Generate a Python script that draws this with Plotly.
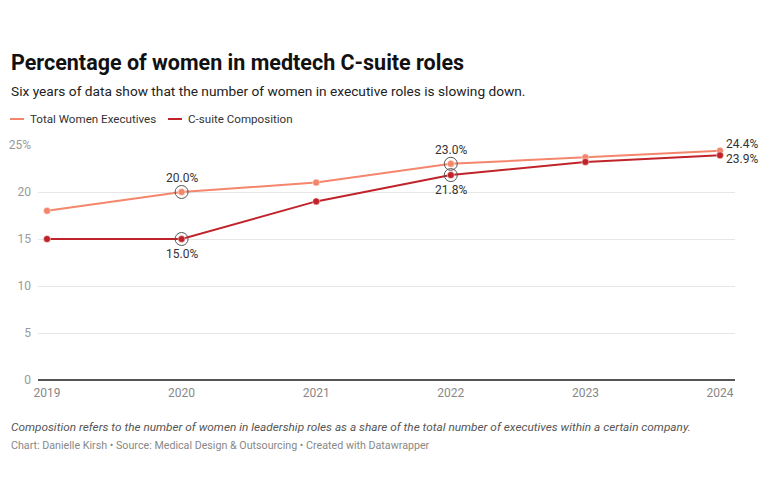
import plotly.graph_objects as go

years = [2019, 2020, 2021, 2022, 2023, 2024]
total_women = [18.0, 20.0, 21.0, 23.0, 23.7, 24.4]
csuite = [15.0, 15.0, 19.0, 21.8, 23.2, 23.9]
y_ticks = [0, 5, 10, 15, 20, 25]
y_tick_labels = ["0", "5", "10", "15", "20", "25%"]
highlight_years = [2020, 2022]
series_names = ["Total Women Executives", "C-suite Composition"]

C_TOTAL = "#f4866b"
C_CSUITE = "#c0242a"

# page body has an 8px default margin; size the figure to fit the window
OFF = 8
W, H = 770 - OFF, 500 - OFF
ML, MR, MT, MB = 38 - OFF, 35, 145 - OFF, 120
PW = W - ML - MR
PH = H - MT - MB

def px_x(px):
    return (px - OFF - ML) / PW

def px_y(py):
    return (H - MB - (py - OFF)) / PH

fig = go.Figure()

for series, col in ((total_women, C_TOTAL), (csuite, C_CSUITE)):
    fig.add_trace(go.Scatter(x=years, y=series, mode="lines+markers",
                             line=dict(color=col, width=2),
                             marker=dict(color=col, size=7, line=dict(color="white", width=0.5)),
                             showlegend=False, cliponaxis=False, hoverinfo="skip"))

# highlight rings
for series in (total_women, csuite):
    hx = [y for y in years if y in highlight_years]
    hy = [series[years.index(y)] for y in hx]
    fig.add_trace(go.Scatter(x=hx, y=hy, mode="markers",
                             marker=dict(symbol="circle-open", size=13, color="#555",
                                         line=dict(color="#555", width=1)),
                             showlegend=False, hoverinfo="skip", cliponaxis=False))

annotations = []
lab_font = dict(family="Roboto", size=12, color="#333")
def val_label(x, y, yshift, xshift=0, xanchor="center"):
    annotations.append(dict(x=x, y=y, xref="x", yref="y", text=f"{y:.1f}%",
                            showarrow=False, font=lab_font, yshift=yshift,
                            xshift=xshift, xanchor=xanchor))

for yr in highlight_years:
    i = years.index(yr)
    val_label(yr, total_women[i], 14)
    val_label(yr, csuite[i], -15)
val_label(2024, total_women[-1], 7, xshift=4, xanchor="left")
val_label(2024, csuite[-1], -4, xshift=4, xanchor="left")

annotations += [
    dict(text="<b>Percentage of women in medtech C-suite roles</b>", x=px_x(9), y=px_y(62),
         xref="paper", yref="paper", xanchor="left", yanchor="middle", showarrow=False,
         font=dict(family="Roboto", size=21.5, color="#111")),
    dict(text="Six years of data show that the number of women in executive roles is slowing down.",
         x=px_x(9), y=px_y(91), xref="paper", yref="paper", xanchor="left", yanchor="middle",
         showarrow=False, font=dict(family="Roboto", size=13.7, color="#222")),
    dict(text="<i>Composition refers to the number of women in leadership roles as a share of the total number of executives within a certain company.</i>",
         x=px_x(9), y=px_y(427), xref="paper", yref="paper", xanchor="left", yanchor="middle",
         showarrow=False, font=dict(family="Roboto", size=11.8, color="#555")),
    dict(text="Chart: Danielle Kirsh • Source: Medical Design &amp; Outsourcing • Created with Datawrapper",
         x=px_x(9), y=px_y(445), xref="paper", yref="paper", xanchor="left", yanchor="middle",
         showarrow=False, font=dict(family="Roboto", size=10.7, color="#888")),
]

# manual legend
shapes = []
legend_items = [(series_names[0], C_TOTAL, 10, 29), (series_names[1], C_CSUITE, 168, 187)]
for name, col, lx, tx in legend_items:
    shapes.append(dict(type="line", xref="paper", yref="paper",
                       x0=px_x(lx), x1=px_x(lx + 14), y0=px_y(119), y1=px_y(119),
                       line=dict(color=col, width=2)))
    annotations.append(dict(text=name, x=px_x(tx - 1), y=px_y(119), xref="paper", yref="paper",
                            xanchor="left", yanchor="middle", showarrow=False,
                            font=dict(family="Roboto", size=11.6, color="#333")))

x0 = 2019 - (47 - 38) / ((720 - 47) / 5)
x1 = 2024 + (735 - 720) / ((720 - 47) / 5)

fig.update_layout(
    width=W, height=H,
    margin=dict(l=ML, r=MR, t=MT, b=MB, autoexpand=False),
    paper_bgcolor="white", plot_bgcolor="white",
    font=dict(family="Roboto", size=12, color="#333"),
    xaxis=dict(range=[x0, x1], tickvals=years, ticktext=[str(y) for y in years],
               showgrid=False, zeroline=False, showline=False, ticks="", automargin=False,
               tickfont=dict(family="Roboto", size=12, color="#888"), ticklabelstandoff=4),
    yaxis=dict(range=[0, 25], tickvals=y_ticks, ticktext=y_tick_labels,
               showgrid=True, gridcolor="#e6e6e6", gridwidth=1, zeroline=True,
               zerolinecolor="#555", zerolinewidth=2, showline=False, ticks="", automargin=False,
               tickfont=dict(family="Roboto", size=12, color="#999"), ticklabelstandoff=6),
    showlegend=False,
    annotations=annotations,
    shapes=shapes,
    hovermode=False,
)

fig.write_html("out.html")
